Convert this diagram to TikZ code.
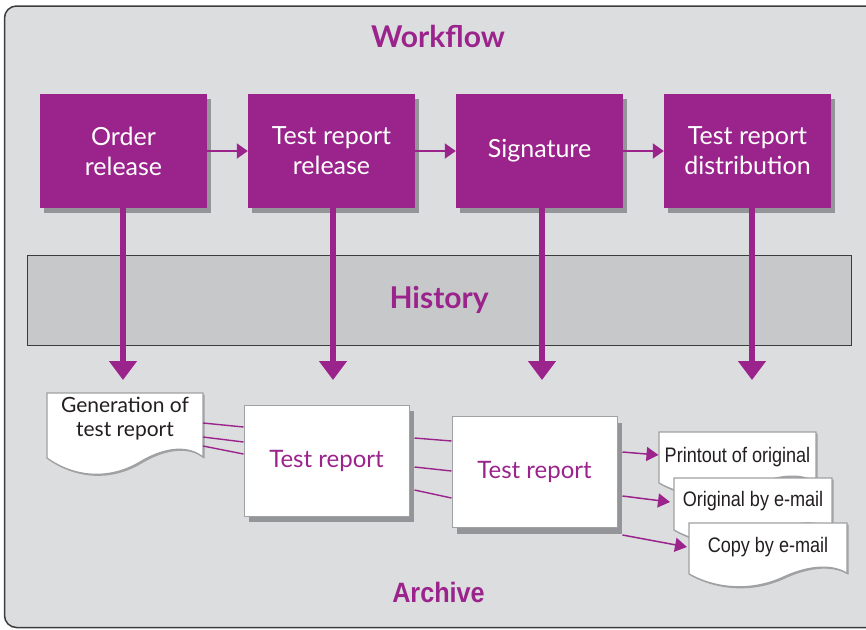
\documentclass[tikz,border=0pt]{standalone}
\usepackage{fontspec}
\setmainfont{Lato}
\newfontfamily\condfont[FakeStretch=0.86]{Liberation Sans}
\newfontfamily\archfont[FakeStretch=0.9]{Liberation Sans}
\usetikzlibrary{arrows.meta,shadows}
\definecolor{wfpurple}{RGB}{155,36,140}
\definecolor{framebg}{RGB}{220,221,223}
\definecolor{histbg}{RGB}{199,200,202}
\definecolor{shadegray}{RGB}{148,149,153}
\definecolor{docgray}{RGB}{160,161,163}
\definecolor{darkline}{RGB}{60,60,60}
\definecolor{doctext}{RGB}{35,31,32}
\pgfdeclarelayer{back}
\pgfdeclarelayer{docs}
\pgfsetlayers{back,docs,main}
% #1 node, #2 width, #3 height, #4 top above centre, #5 style, #6 dx, #7 dy
\newcommand\docshape[7]{%
 \pgfmathsetmacro\dL{-(#2)/2+(#6)}%
 \pgfmathsetmacro\dR{(#2)/2+(#6)}%
 \pgfmathsetmacro\dT{(#4)+(#7)}%
 \pgfmathsetmacro\dB{(#4)-(#3)+(#7)}%
 \pgfmathsetmacro\dRB{\dB+0.015*(#3)}%
 \pgfmathsetmacro\cAx{\dL+0.885*(#2)}\pgfmathsetmacro\cAy{\dB+0.231*(#3)}%
 \pgfmathsetmacro\cBx{\dL+0.724*(#2)}\pgfmathsetmacro\cBy{\dB+0.123*(#3)}%
 \pgfmathsetmacro\dMx{\dL+0.596*(#2)}\pgfmathsetmacro\dMy{\dB-0.062*(#3)}%
 \pgfmathsetmacro\cCx{\dL+0.404*(#2)}\pgfmathsetmacro\cCy{\dB-0.338*(#3)}%
 \pgfmathsetmacro\cDx{\dL+0.179*(#2)}\pgfmathsetmacro\cDy{\dB-0.308*(#3)}%
 \path[#5] ([xshift=\dL pt,yshift=\dT pt]#1.center)
  -- ([xshift=\dR pt,yshift=\dT pt]#1.center)
  -- ([xshift=\dR pt,yshift=\dRB pt]#1.center)
  .. controls ([xshift=\cAx pt,yshift=\cAy pt]#1.center) and ([xshift=\cBx pt,yshift=\cBy pt]#1.center)
  .. ([xshift=\dMx pt,yshift=\dMy pt]#1.center)
  .. controls ([xshift=\cCx pt,yshift=\cCy pt]#1.center) and ([xshift=\cDx pt,yshift=\cDy pt]#1.center)
  .. ([xshift=\dL pt,yshift=\dB pt]#1.center) -- cycle;}
\tikzset{
 stepbox/.style={rectangle, fill=wfpurple, text=white, minimum width=167pt, minimum height=114pt,
   inner sep=0pt, align=center, font=\fontsize{25}{30}\selectfont,
   drop shadow={shadow xshift=4pt, shadow yshift=-5pt, fill=shadegray, opacity=1}},
 reportbox/.style={rectangle, fill=white, draw=docgray, line width=1pt, text=wfpurple,
   minimum width=165pt, minimum height=111pt, inner sep=0pt, font=\fontsize{24}{29}\selectfont,
   drop shadow={shadow xshift=5pt, shadow yshift=-6pt, fill=shadegray, opacity=1}},
 doctxt/.style={rectangle, inner sep=0pt, text=doctext, align=center},
 titletxt/.style={text=wfpurple, inner sep=0pt, anchor=base, font=\fontsize{30}{34}\selectfont\bfseries},
 harrow/.style={draw=wfpurple, line width=2pt, -{Triangle[length=11pt,width=15pt]}},
 varrow/.style={draw=wfpurple, line width=6pt, -{Triangle[length=19pt,width=27pt]}},
 link/.style={draw=wfpurple, line width=1.4pt},
 darrow/.style={draw=wfpurple, line width=1.5pt, -{Triangle[length=12pt,width=14pt]}},
 docfill/.style={fill=white, draw=docgray, line width=1.3pt},
 docshadow/.style={fill=docgray}
}
\begin{document}
\begin{tikzpicture}[x=1pt,y=-1pt]
\useasboundingbox (0,0) rectangle (866,629);
\clip (0,0) rectangle (866,629);
\begin{pgfonlayer}{back}
 \draw[fill=framebg, draw=darkline, line width=1.5pt, rounded corners=12pt] (4.5,6) rectangle (880,627.5);
 \node[rectangle, fill=histbg, draw=darkline, line width=1pt, minimum width=824pt, minimum height=90pt,
   inner sep=0pt, text=wfpurple, font=\fontsize{30}{34}\selectfont\bfseries] (hist) at (439,300) {History};
\end{pgfonlayer}
\node[titletxt] (wf) at (438,47) {Workflow};
\node[titletxt, font=\archfont\fontsize{28}{32}\selectfont\bfseries] (arch) at (438.5,602) {Archive};

\node[stepbox] (b1) at (123.5,151) {Order\\release};
\node[stepbox] (b2) at (331.5,151) {Test report\\release};
\node[stepbox] (b3) at (539.5,151) {Signature};
\node[stepbox] (b4) at (747.5,151) {Test report\\distribution};
\draw[harrow] (b1.east) -- (b2.west);
\draw[harrow] (b2.east) -- (b3.west);
\draw[harrow] (b3.east) -- (b4.west);

\coordinate (v1) at (123,380);
\coordinate (v2) at (333,380);
\coordinate (v3) at (542,380);
\coordinate (v4) at (752,380);
\draw[varrow] ([xshift=-0.5pt]b1.south) -- (v1);
\draw[varrow] ([xshift=1.5pt]b2.south) -- (v2);
\draw[varrow] ([xshift=2.5pt]b3.south) -- (v3);
\draw[varrow] ([xshift=4.5pt]b4.south) -- (v4);

% documents
\node[doctxt, font=\fontsize{21}{24}\selectfont] (gen) at (125,419) {Generation of\\test report};
\node[doctxt, font=\condfont\fontsize{21}{25}\selectfont] (print) at (737.5,457) {Printout of original};
\node[doctxt, font=\condfont\fontsize{21}{25}\selectfont] (orig) at (753,501) {Original by e-mail};
\node[doctxt, font=\condfont\fontsize{21}{25}\selectfont] (copy) at (768,547) {Copy by e-mail};
\begin{pgfonlayer}{docs}
 \docshape{gen}{156}{65}{26}{docshadow}{1.5}{-1.5}
 \docshape{gen}{156}{65}{26}{docfill}{0}{0}
 \docshape{print}{157}{51}{25}{docshadow}{1.5}{-1.5}
 \docshape{print}{157}{51}{25}{docfill}{0}{0}
 \docshape{orig}{158}{52}{23}{docshadow}{1.5}{-1.5}
 \docshape{orig}{158}{52}{23}{docfill}{0}{0}
 \docshape{copy}{158}{51}{24}{docshadow}{1.5}{-1.5}
 \docshape{copy}{158}{51}{24}{docfill}{0}{0}
\end{pgfonlayer}

\node[reportbox] (tr1) at (326.5,460.5) {Test report};
\node[reportbox] (tr2) at (534.5,472) {Test report};

\draw[link] ([xshift=78pt,yshift=-4pt]gen.center) -- ([yshift=33.5pt]tr1.west);
\draw[link] ([xshift=78pt,yshift=-18pt]gen.center) -- ([yshift=18.5pt]tr1.west);
\draw[link] ([xshift=78pt,yshift=-27pt]gen.center) -- ([yshift=6.5pt]tr1.west);

\draw[link] ([xshift=5pt,yshift=22.5pt]tr1.east) -- ([yshift=31pt]tr2.west);
\draw[link] ([xshift=5pt,yshift=-6.5pt]tr1.east) -- ([yshift=1pt]tr2.west);
\draw[link] ([xshift=5pt,yshift=-29.5pt]tr1.east) -- ([yshift=-26pt]tr2.west);

\draw[darrow] ([xshift=5pt,yshift=20pt]tr2.east) -- ([xshift=-79pt,yshift=2pt]print.center);
\draw[darrow] ([xshift=5pt,yshift=-24pt]tr2.east) -- ([xshift=-83pt,yshift=-1pt]orig.center);
\draw[darrow] ([xshift=5pt,yshift=-63pt]tr2.east) -- ([xshift=-81pt,yshift=0pt]copy.center);
\end{tikzpicture}
\end{document}
